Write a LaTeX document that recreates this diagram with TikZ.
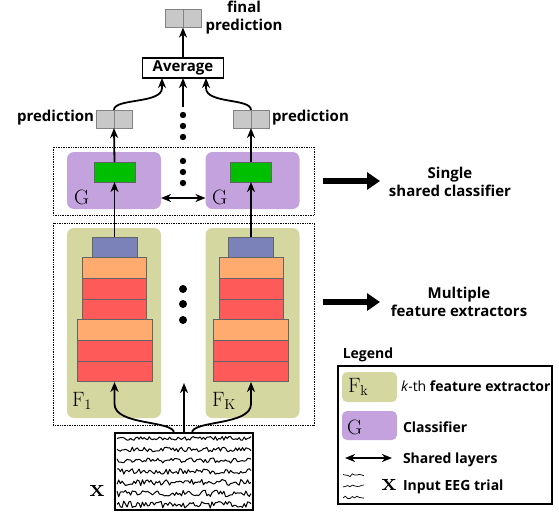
\documentclass[tikz,border=0pt]{standalone}
\usepackage[no-math]{fontspec}
\setmainfont{Open Sans}
\usetikzlibrary{arrows.meta,calc}
\definecolor{clfpurple}{RGB}{195,162,222}
\definecolor{featolive}{RGB}{213,215,160}
\definecolor{gblock}{RGB}{0,190,0}
\definecolor{convblue}{RGB}{123,130,185}
\definecolor{poolorange}{RGB}{255,170,110}
\definecolor{convred}{RGB}{255,90,90}
\definecolor{predgray}{RGB}{200,200,200}
\definecolor{edgegray}{RGB}{100,100,100}
\begin{document}
\begin{tikzpicture}[x=1pt,y=-1pt,inner sep=0pt,outer sep=0pt,line width=1.8pt,
>={Stealth[length=10pt,width=8pt,inset=3pt]},
lbl/.style={font=\fontsize{15}{18}\selectfont\bfseries,align=center},
leglbl/.style={font=\fontsize{14}{17}\selectfont,anchor=west},
mlbl/.style={font=\fontsize{22}{26}\selectfont,anchor=west},
predbox/.style={draw=edgegray!80,line width=1pt,fill=predgray,minimum width=18,minimum height=18},
fextbox/.style={fill=featolive,rounded corners=7pt,minimum width=94,minimum height=190},
clfbox/.style={fill=clfpurple,rounded corners=7pt,minimum width=94,minimum height=57},
gbox/.style={draw=edgegray,line width=0.9pt,fill=gblock,minimum width=41,minimum height=20},
layer/.style={draw=edgegray,line width=0.9pt,minimum height=20.7},
bigarrow/.style={line width=6.5pt,-{Triangle[length=13pt,width=17pt]}},
frame/.style={densely dotted,line width=0.7pt}]
\useasboundingbox (0,0) rectangle (559,512);

% frames
\draw[frame] (53,147) rectangle (314,215);
\draw[frame] (53,223) rectangle (314,425);

% feature extractors
\node[fextbox] (fe1) at (114,323) {};
\node[fextbox] (fe2) at (252.5,323) {};
\foreach \w/\col [count=\i] in {45/convblue,64/poolorange,64/convred,64/convred,75/poolorange,75/convred,75/convred}{
  \node[layer,fill=\col,minimum width=\w] (fa\i) at (114.5,{237+(\i-0.5)*20.7}) {};
  \node[layer,fill=\col,minimum width=\w] (fb\i) at (251,{237+(\i-0.5)*20.7}) {};
}
\node[mlbl] (flab1) at (72,401) {$\mathrm{F}_1$};
\node[mlbl] (flab2) at (212,401) {$\mathrm{F}_\mathrm{K}$};
\foreach \y in {289,304,320} \fill (183,\y) circle (4);

% classifiers
\node[clfbox] (g1) at (114,180.5) {};
\node[clfbox] (g2) at (252.5,180.5) {};
\node[gbox] (gr1) at (114.5,172) {};
\node[gbox] (gr2) at (251,172) {};
\node[mlbl] (glab1) at (74,197) {$\mathrm{G}$};
\node[mlbl] (glab2) at (212,197) {$\mathrm{G}$};
\foreach \y in {161,172,183} \fill (183,\y) circle (3.2);
\draw[<->] ($(g1.east)+(0,17.5)$) -- ($(g2.west)+(0,17.5)$);

% predictions
\node[predbox] (pl1) at (105,119) {};
\node[predbox] (pl2) at (123,119) {};
\node[predbox] (pr1) at (242,119) {};
\node[predbox] (pr2) at (260,119) {};
\node[lbl,anchor=east] (plab1) at (94,118) {prediction};
\node[lbl,anchor=west] (plab2) at (272,118) {prediction};
\foreach \y in {115,126,137} \fill (183,\y) circle (3.2);
\coordinate (midtop) at (183,107);

\node[draw,line width=1.6pt,minimum width=81,minimum height=20,lbl] (avg) at (183,68) {Average};
\node[predbox] (fin1) at (174,18.5) {};
\node[predbox] (fin2) at (192,18.5) {};
\node[lbl] (flab) at (244,18) {final\\prediction};

\draw[->] (avg.north) -- (fin1.south east);
\draw[->] (midtop) -- (avg.south);
\draw[->] (pl1.north east) .. controls +(0,-12) and +(0,16) .. ($(avg.south)+(-21,10)$) -- ($(avg.south)+(-21,0)$);
\draw[->] (pr1.north east) .. controls +(0,-12) and +(0,16) .. ($(avg.south)+(23,10)$) -- ($(avg.south)+(23,0)$);
\draw[->] (gr1.north) -- (pl1.south east);
\draw[->] (gr2.north) -- (pr1.south east);
\draw[->] (fa1.north) -- (gr1.south);
\draw[->] (fb1.north) -- (gr2.south);

% input trial
\node[draw,line width=1.2pt,fill=white,minimum width=138,minimum height=77] (eeg) at (184,471.5) {};
\pgfmathsetseed{11}
\foreach \r in {1,...,7}
  \draw[line width=1pt,line join=round] plot[domain=117:251,samples=80] (\x,{433+11*(\r-0.5)+(1.8+0.25*\r)*rand});
\node[font=\fontsize{28}{32}\selectfont] (xlab) at (97,491) {$\mathbf{x}$};
\coordinate (fmid) at (184,383);
\draw[->] (eeg.north) -- (fmid);
\draw[->] ($(eeg.north)+(-10,0)$) .. controls +(0,-13) and +(0,22) .. ($(fa7.south)+(0,22)$) -- (fa7.south);
\draw[->] ($(eeg.north)+(8,0)$) .. controls +(0,-13) and +(0,22) .. ($(fb7.south)+(0,22)$) -- (fb7.south);

% side notes
\coordinate (na1) at (323,181);
\coordinate (nb1) at (380,181);
\coordinate (na2) at (323,302);
\coordinate (nb2) at (380,302);
\draw[bigarrow] (na1) -- (nb1);
\draw[bigarrow] (na2) -- (nb2);
\node[lbl] (note1) at (450,182) {Single\\shared classifier};
\node[lbl] (note2) at (459,302) {Multiple\\feature extractors};

% legend
\node[lbl,font=\fontsize{14}{17}\selectfont\bfseries] (leg) at (368,355) {Legend};
\draw[line width=1.2pt] (338,366) rectangle (552,504);
\node[fextbox,minimum width=55,minimum height=30,rounded corners=5pt] (lf) at (369.5,387) {};
\node[clfbox,minimum width=55,minimum height=29,rounded corners=5pt] (lg) at (369.5,425.5) {};
\node[mlbl] (lflab) at (348,387) {$\mathrm{F}_\mathrm{k}$};
\node[mlbl] (lglab) at (347,427) {$\mathrm{G}$};
\node[leglbl] (lt1) at (401,386) {\textit{k}-th \textbf{feature extractor}};
\node[leglbl] (lt2) at (403,427) {\textbf{Classifier}};
\coordinate (lsa) at (345,458);
\coordinate (lsb) at (392,458);
\draw[<->] (lsa) -- (lsb);
\node[leglbl] (lt3) at (403,460) {\textbf{Shared layers}};
\foreach \r/\yy in {0/475,1/486,2/497}
  \draw[line width=0.7pt] plot[domain=343:364,samples=10] (\x,{\yy+1.6*rand});
\node[font=\fontsize{26}{30}\selectfont] (lxlab) at (389,485) {$\mathbf{x}$};
\node[leglbl] (lt4) at (403,487) {\textbf{Input EEG trial}};
\end{tikzpicture}
\end{document}
